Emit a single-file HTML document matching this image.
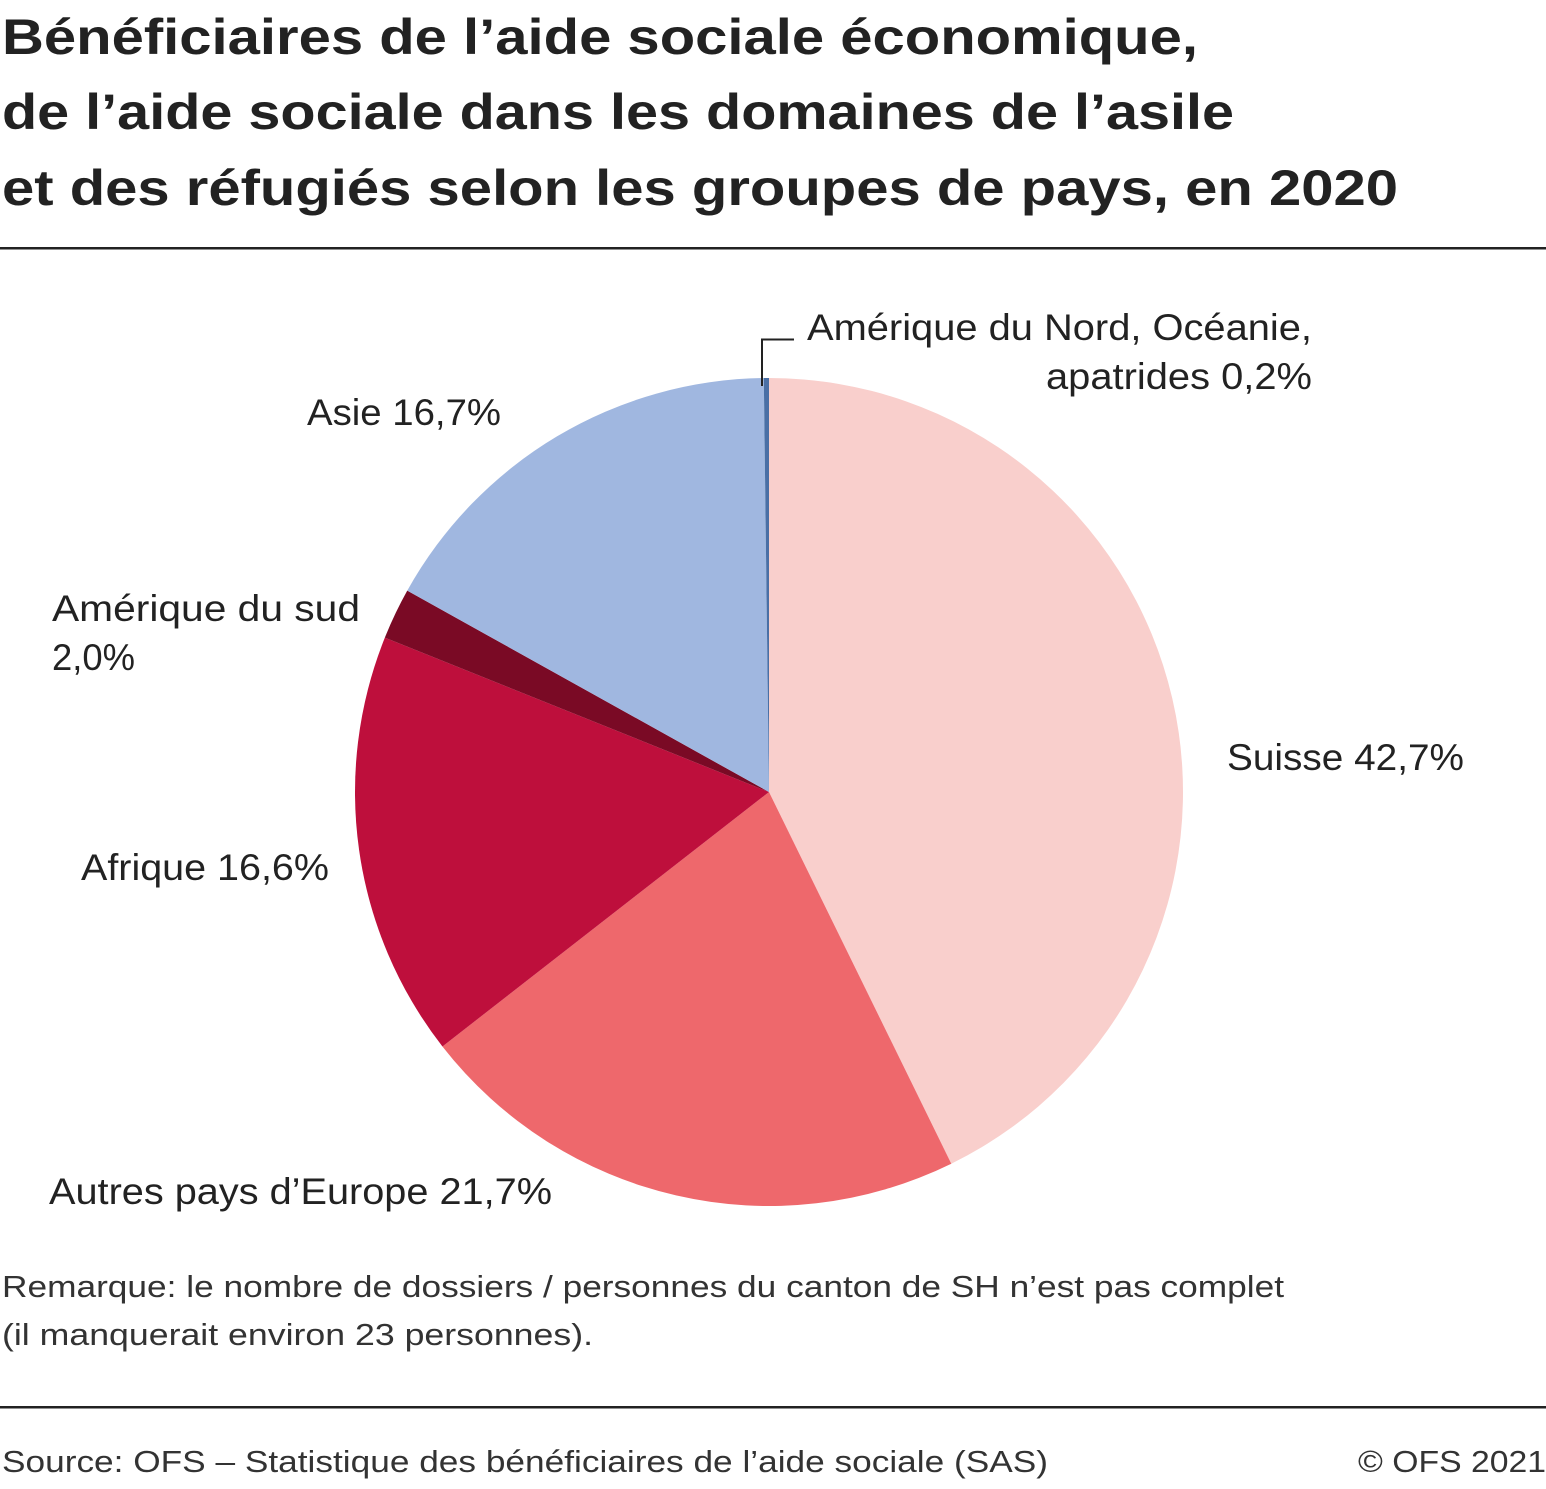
<!DOCTYPE html>
<html><head><meta charset="utf-8"><style>
html,body{margin:0;padding:0;background:#fff}
svg{display:block;font-family:"Liberation Sans",sans-serif}
</style></head><body>
<svg id="chart" width="1546" height="1489" viewBox="0 0 1546 1489" xmlns="http://www.w3.org/2000/svg">
<g font-weight="bold" font-size="50" fill="#222">
<text x="2" y="54" textLength="1196" lengthAdjust="spacingAndGlyphs">Bénéficiaires de l’aide sociale économique,</text>
<text x="2" y="129" textLength="1232" lengthAdjust="spacingAndGlyphs">de l’aide sociale dans les domaines de l’asile</text>
<text x="2" y="205" textLength="1396" lengthAdjust="spacingAndGlyphs">et des réfugiés selon les groupes de pays, en 2020</text>
</g>
<rect x="0" y="247" width="1546" height="2.5" fill="#222"/>
<g id="slices"></g>
<path d="M762 386 V339.5 H794" fill="none" stroke="#222" stroke-width="2"/>
<g font-size="37" fill="#222">
<text x="1312" y="340" text-anchor="end" textLength="505" lengthAdjust="spacingAndGlyphs">Amérique du Nord, Océanie,</text>
<text x="1312" y="389" text-anchor="end" textLength="266" lengthAdjust="spacingAndGlyphs">apatrides 0,2%</text>
<text x="307" y="425" textLength="194" lengthAdjust="spacingAndGlyphs">Asie 16,7%</text>
<text x="52" y="621" textLength="308" lengthAdjust="spacingAndGlyphs">Amérique du sud</text>
<text x="52" y="670" textLength="83" lengthAdjust="spacingAndGlyphs">2,0%</text>
<text x="81" y="880" textLength="248" lengthAdjust="spacingAndGlyphs">Afrique 16,6%</text>
<text x="1227" y="770" textLength="237" lengthAdjust="spacingAndGlyphs">Suisse 42,7%</text>
<text x="49" y="1204" textLength="503" lengthAdjust="spacingAndGlyphs">Autres pays d’Europe 21,7%</text>
</g>
<g font-size="31" fill="#333">
<text x="2" y="1297" textLength="1282" lengthAdjust="spacingAndGlyphs">Remarque: le nombre de dossiers / personnes du canton de SH n’est pas complet</text>
<text x="2" y="1345" textLength="591" lengthAdjust="spacingAndGlyphs">(il manquerait environ 23 personnes).</text>
</g>
<rect x="0" y="1406" width="1546" height="2.5" fill="#222"/>
<g font-size="31" fill="#333">
<text x="2" y="1472" textLength="1046" lengthAdjust="spacingAndGlyphs">Source: OFS – Statistique des bénéficiaires de l’aide sociale (SAS)</text>
<text x="1546" y="1472" text-anchor="end" textLength="188" lengthAdjust="spacingAndGlyphs">© OFS 2021</text>
</g>
</svg>
<script>
const categories = ["Suisse","Autres pays d'Europe","Afrique","Amérique du sud","Asie","Amérique du Nord, Océanie, apatrides"];
const values = [42.7,21.7,16.6,2.0,16.7,0.2];
const colors = ["#f9cfcc","#ee686c","#be0f3c","#7a0a25","#a0b7e0","#4a6fa5"];
const cx=769, cy=792, r=414;
const total = values.reduce((a,b)=>a+b,0);
const g=document.getElementById('slices');
let acc=0;
function pt(a){return [cx+r*Math.sin(a), cy-r*Math.cos(a)];}
values.forEach((v,i)=>{
  const a0=acc/total*2*Math.PI; acc+=v; const a1=acc/total*2*Math.PI;
  const p0=pt(a0), p1=pt(a1);
  const large=(a1-a0)>Math.PI?1:0;
  const p=document.createElementNS('http://www.w3.org/2000/svg','path');
  p.setAttribute('d',`M${cx} ${cy} L${p0[0]} ${p0[1]} A${r} ${r} 0 ${large} 1 ${p1[0]} ${p1[1]} Z`);
  p.setAttribute('fill',colors[i]);
  
  
  const t=document.createElementNS('http://www.w3.org/2000/svg','title');
  t.textContent=categories[i]+' '+v+'%';
  p.appendChild(t);
  g.appendChild(p);
});
</script>
</body></html>
